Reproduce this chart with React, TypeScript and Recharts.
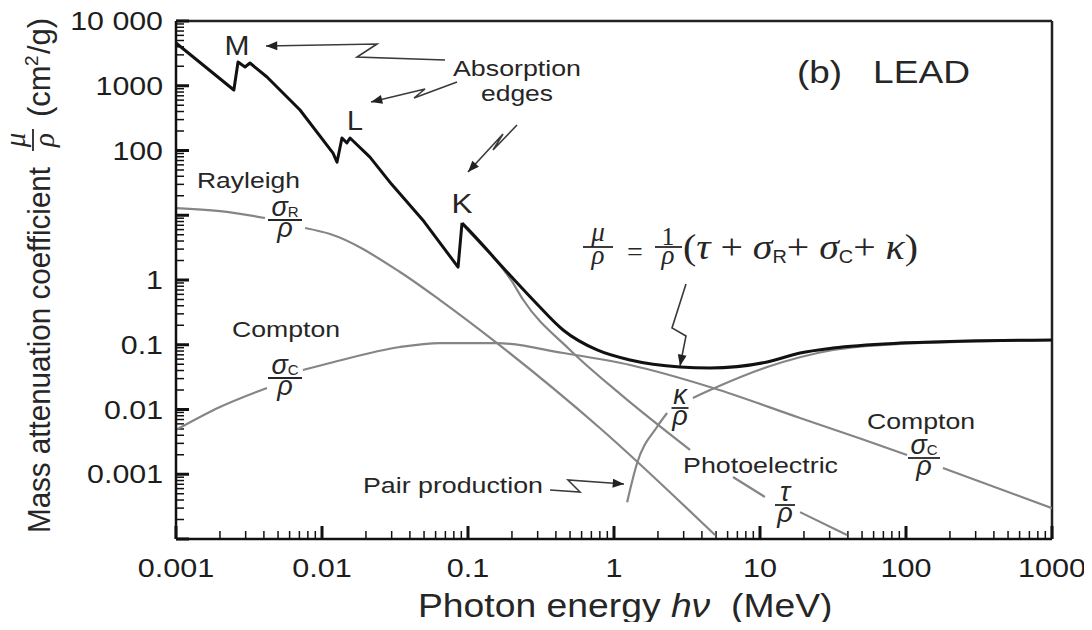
import React from 'react';
import { LineChart, Line, XAxis, YAxis, ReferenceLine } from 'recharts';

type Pt = [number, number | null];

const SANS = '"Liberation Sans", Arial, Helvetica, sans-serif';
const SERIF = '"Liberation Serif", "Times New Roman", serif';
const INK = '#262626';
const GREY = '#858585';

// axis ticks
const energyTicks = [0.001, 0.01, 0.1, 1, 10, 100, 1000];
const energyTickLabels = ['0.001', '0.01', '0.1', '1', '10', '100', '1000'];
const muTicks = [10000, 1000, 100, 10, 1, 0.1, 0.01, 0.001, 0.0001];
const muTickLabels = ['10 000', '1000', '100', '', '1', '0.1', '0.01', '0.001', ''];
const minorSteps = [2, 3, 4, 5, 6, 7, 8, 9];

// photon energy (MeV), mass coefficient (cm²/g); null = break for a label
// total, up to the top of the K edge (drawn straight, keeps the edge jumps sharp)
const totalMuEdges: Pt[] = [
  [0.001, 4570], [0.00249, 860], [0.00266, 2330], [0.00297, 1950], [0.00321, 2245],
  [0.0042, 1365], [0.00707, 422], [0.0119, 91], [0.01267, 66], [0.0137, 156],
  [0.0148, 131], [0.01556, 156], [0.0213, 79], [0.03, 30], [0.05, 8.0],
  [0.0855, 1.58], [0.091, 7.6],
];
// total, above the K edge
const totalMuHigh: Pt[] = [
  [0.091, 7.6], [0.1, 6.1], [0.2, 1.1], [0.288, 0.457],
  [0.448, 0.169], [0.766, 0.083], [1.29, 0.058], [2.83, 0.0453], [4.55, 0.0437],
  [11.2, 0.0542], [18.8, 0.0746], [31.6, 0.089], [91, 0.106], [262, 0.114], [1000, 0.118],
];

const rayleighMu: Pt[] = [
  [0.001, 12.9], [0.002, 11.6], [0.00407, 9.07], [0.0055, null], [0.00766, 6.35],
  [0.01135, 5.13], [0.0342, 1.33], [0.0643, 0.49], [0.158, 0.106], [0.8, 0.00518], [4.92, 0.000115],
];

const comptonMu: Pt[] = [
  [0.001, 0.00482], [0.002, 0.0109], [0.0042, 0.0215], [0.0056, null], [0.0074, 0.0407],
  [0.01135, 0.0522], [0.0342, 0.0923], [0.0643, 0.106], [0.158, 0.106], [0.448, 0.0746],
  [1.29, 0.0487], [4.77, 0.0215], [18.8, 0.0074], [48, 0.0036], [101.6, 0.00198],
  [135, null], [179, 0.00125], [1000, 0.0003],
];

const photoMu: Pt[] = [
  [0.091, 7.3], [0.1, 5.8], [0.2, 0.95], [0.238, 0.5], [0.5, 0.083], [1.1, 0.0174],
  [3.32, 0.00237], [4.8, null], [6.53, 0.000906], [10.8, 0.000446], [14, null],
  [18.8, 0.00026], [39.4, 0.000115],
];

const pairMu: Pt[] = [
  [1.23, 0.00037], [1.44, 0.00149], [1.97, 0.00537], [2.31, 0.00883], [2.8, null],
  [3.47, 0.0151], [4.55, 0.02], [11.2, 0.0453], [31.6, 0.083], [91, 0.103], [1000, 0.118],
];

const rows = (pts: Pt[]) => pts.map(([e, v]) => ({ e, v }));

const minorsOf = (majors: number[]) => {
  const top = Math.max(...majors);
  const out: number[] = [];
  majors.forEach((m) => {
    if (m < top) minorSteps.forEach((k) => out.push(m * k));
  });
  return out;
};

const X_MIN = 0.001;
const Y_MIN = 0.0001;
// tick lengths as factors along each log axis (146 px / decade in x, 64.75 px / decade in y)
const xFactor = (px: number) => Math.pow(10, px / 146);
const yFactor = (px: number) => Math.pow(10, px / 64.75);

function EnergyTick(props: any) {
  const { x, y, payload } = props;
  const i = energyTicks.indexOf(payload.value);
  if (i < 0) return <g />;
  return (
    <text transform={`translate(${x},${y + 38}) scale(1.2,1)`} textAnchor="middle" fontSize={25.5} fontFamily={SANS} fill="#1d1d1d">
      {energyTickLabels[i]}
    </text>
  );
}

function MuTick(props: any) {
  const { x, y, payload } = props;
  const i = muTicks.indexOf(payload.value);
  if (i < 0 || muTickLabels[i] === '') return <g />;
  return (
    <text transform={`translate(${x - 13},${y + 9}) scale(1.19,1)`} textAnchor="end" fontSize={25.5} fontFamily={SANS} fill="#1d1d1d">
      {muTickLabels[i]}
    </text>
  );
}

function Txt({ x, y, w, size = 22, anchor = 'middle', children }: any) {
  return (
    <text x={x} y={y} fontSize={size} textAnchor={anchor} fontFamily={SANS} fill={INK} textLength={w} lengthAdjust="spacingAndGlyphs">
      {children}
    </text>
  );
}

function Frac({ cx, yb, w, top, sub }: any) {
  return (
    <g fill={INK} fontFamily={SANS}>
      <text x={cx} y={yb - 4} textAnchor="middle" fontSize={27}>
        <tspan fontStyle="italic">{top}</tspan>
        {sub && (
          <tspan fontSize={15} dy={1}>
            {sub}
          </tspan>
        )}
      </text>
      <line x1={cx - w / 2} x2={cx + w / 2} y1={yb} y2={yb} stroke={INK} strokeWidth={1.8} />
      <text x={cx} y={yb + 17} textAnchor="middle" fontSize={27} fontStyle="italic">
        ρ
      </text>
    </g>
  );
}

function Annotations() {
  const arrow = { fill: 'none', stroke: '#3a3a3a', strokeWidth: 1.6, markerEnd: 'url(#ah)' };
  return (
    <svg width={1084} height={622} style={{ position: 'absolute', left: -8, top: -8, overflow: 'visible', pointerEvents: 'none' }}>
      <defs>
        <marker id="ah" viewBox="0 0 10 8" refX="10" refY="4" markerWidth="13" markerHeight="9" markerUnits="userSpaceOnUse" orient="auto">
          <path d="M0,0 L10,4 L0,8 z" fill="#222" />
        </marker>
      </defs>

      {/* y axis title */}
      <g transform="translate(50,533) rotate(-90)" fill={INK} fontFamily={SANS}>
        <text x={0} y={0} fontSize={31} textLength={366} lengthAdjust="spacingAndGlyphs">
          Mass attenuation coefficient
        </text>
        <text x={393} y={-25} fontSize={29} fontStyle="italic" textAnchor="middle" fontFamily={SERIF}>μ</text>
        <line x1={382} x2={404} y1={-17} y2={-17} stroke={INK} strokeWidth={1.8} />
        <text x={393} y={4} fontSize={29} fontStyle="italic" textAnchor="middle" fontFamily={SERIF}>ρ</text>
        <text x={416} y={0} fontSize={31}>(cm</text>
        <text x={467} y={-12} fontSize={19}>2</text>
        <text x={479} y={0} fontSize={31}>/g)</text>
      </g>

      {/* x axis title */}
      <text transform="translate(418,617) scale(1.13,1)" fontSize={33} fontFamily={SANS} fill={INK}>
        Photon energy <tspan fontStyle="italic">hν</tspan>
        {'\u00a0\u00a0(MeV)'}
      </text>

      {/* panel title */}
      <Txt x={797} y={83} w={45} size={32} anchor="start">(b)</Txt>
      <Txt x={873} y={83} w={97} size={32} anchor="start">LEAD</Txt>

      {/* absorption edges */}
      <Txt x={237} y={55} w={25} size={28}>M</Txt>
      <Txt x={355} y={130} w={16} size={28}>L</Txt>
      <Txt x={462} y={213} w={21} size={28}>K</Txt>
      <Txt x={517} y={76} w={128}>Absorption</Txt>
      <Txt x={517} y={101} w={72}>edges</Txt>
      <path d="M445,60 L357,57 L377,44 L266,46" {...arrow} />
      <path d="M457,82 L414,98 L425,89 L371,102" {...arrow} />
      <path d="M517,125 L493,150 L503,134 L468,172" {...arrow} />

      {/* component labels */}
      <Txt x={197} y={188} w={103} anchor="start">Rayleigh</Txt>
      <Frac cx={285} yb={220} w={34} top="σ" sub="R" />
      <Txt x={232} y={337} w={108} anchor="start">Compton</Txt>
      <Frac cx={285} yb={378} w={34} top="σ" sub="C" />
      <Txt x={867} y={429} w={108} anchor="start">Compton</Txt>
      <Frac cx={924} yb={458} w={32} top="σ" sub="C" />
      <Txt x={683} y={473} w={155} anchor="start">Photoelectric</Txt>
      <Frac cx={785} yb={505} w={20} top="τ" />
      <Frac cx={680} yb={408} w={17} top="κ" />
      <Txt x={363} y={493} w={180} anchor="start">Pair production</Txt>
      <path d="M550,490 L580,492 L568,480 L624,484" {...arrow} />

      {/* equation */}
      <g fontFamily={SERIF} fill={INK}>
        <text x={598} y={241} fontSize={27} fontStyle="italic" textAnchor="middle">μ</text>
        <line x1={583} x2={613} y1={247} y2={247} stroke={INK} strokeWidth={1.8} />
        <text x={598} y={264} fontSize={27} fontStyle="italic" textAnchor="middle">ρ</text>
        <text x={635} y={261} fontSize={28} textAnchor="middle">=</text>
        <text x={668} y={245} fontSize={26} textAnchor="middle">1</text>
        <line x1={655} x2={682} y1={247} y2={247} stroke={INK} strokeWidth={1.8} />
        <text x={668} y={264} fontSize={27} fontStyle="italic" textAnchor="middle">ρ</text>
        <text x={683} y={259} fontSize={36} textLength={235} lengthAdjust="spacingAndGlyphs">
          {'('}
          <tspan fontStyle="italic">τ</tspan>
          {'\u00a0+\u00a0'}
          <tspan fontStyle="italic">σ</tspan>
          <tspan fontSize={18} fontFamily={SANS} dy={4}>R</tspan>
          <tspan dy={-4}>{'+\u00a0'}</tspan>
          <tspan fontStyle="italic">σ</tspan>
          <tspan fontSize={18} fontFamily={SANS} dy={4}>C</tspan>
          <tspan dy={-4}>{'+\u00a0'}</tspan>
          <tspan fontStyle="italic">κ</tspan>
          {')'}
        </text>
      </g>
      <path d="M686,284 L672,328 L686,336 L680,366" {...arrow} />
    </svg>
  );
}

export default function App() {
  const axisLine = { stroke: '#111', strokeWidth: 2.5 };
  const grey = { stroke: GREY, strokeWidth: 2.2, dot: false, isAnimationActive: false, type: 'monotone' as const };
  const black = { stroke: '#111', strokeWidth: 3, strokeLinejoin: 'round' as const, dot: false, isAnimationActive: false };
  const xMinor = minorsOf(energyTicks);
  const yMinor = minorsOf(muTicks);
  return (
    <div style={{ position: 'relative', width: 1082, height: 614, background: '#fff' }}>
      <LineChart width={1082} height={614} margin={{ top: 13, right: 38, bottom: 0, left: 0 }}>
        <XAxis
          dataKey="e"
          type="number"
          scale="log"
          domain={[0.001, 1000]}
          allowDataOverflow
          ticks={energyTicks}
          interval={0}
          tick={<EnergyTick />}
          tickLine={false}
          tickSize={0}
          tickMargin={0}
          height={83}
          axisLine={axisLine}
        />
        <YAxis
          type="number"
          scale="log"
          domain={[0.0001, 10000]}
          allowDataOverflow
          ticks={muTicks}
          interval={0}
          tick={<MuTick />}
          tickLine={false}
          tickSize={0}
          tickMargin={0}
          width={168}
          axisLine={axisLine}
        />
        <ReferenceLine y={10000} stroke="#222" strokeWidth={2.5} ifOverflow="visible" />
        <ReferenceLine x={1000} stroke="#222" strokeWidth={2.5} ifOverflow="visible" />

        {/* inward tick marks */}
        {energyTicks.map((v) => (
          <ReferenceLine key={`xM${v}`} ifOverflow="visible" segment={[{ x: v, y: Y_MIN }, { x: v, y: Y_MIN * yFactor(13) }]} stroke="#111" strokeWidth={3} />
        ))}
        {xMinor.map((v) => (
          <ReferenceLine key={`xm${v}`} ifOverflow="visible" segment={[{ x: v, y: Y_MIN }, { x: v, y: Y_MIN * yFactor(8) }]} stroke="#111" strokeWidth={1.5} />
        ))}
        {muTicks.map((v) => (
          <ReferenceLine key={`yM${v}`} ifOverflow="visible" segment={[{ x: X_MIN, y: v }, { x: X_MIN * xFactor(13), y: v }]} stroke="#111" strokeWidth={3} />
        ))}
        {yMinor.map((v) => (
          <ReferenceLine key={`ym${v}`} ifOverflow="visible" segment={[{ x: X_MIN, y: v }, { x: X_MIN * xFactor(8), y: v }]} stroke="#111" strokeWidth={1.5} />
        ))}

        <Line data={rows(rayleighMu)} dataKey="v" {...grey} />
        <Line data={rows(comptonMu)} dataKey="v" {...grey} />
        <Line data={rows(photoMu)} dataKey="v" {...grey} />
        <Line data={rows(pairMu)} dataKey="v" {...grey} />
        <Line data={rows(totalMuEdges)} dataKey="v" type="linear" {...black} />
        <Line data={rows(totalMuHigh)} dataKey="v" type="monotone" {...black} />
      </LineChart>
      <Annotations />
    </div>
  );
}
